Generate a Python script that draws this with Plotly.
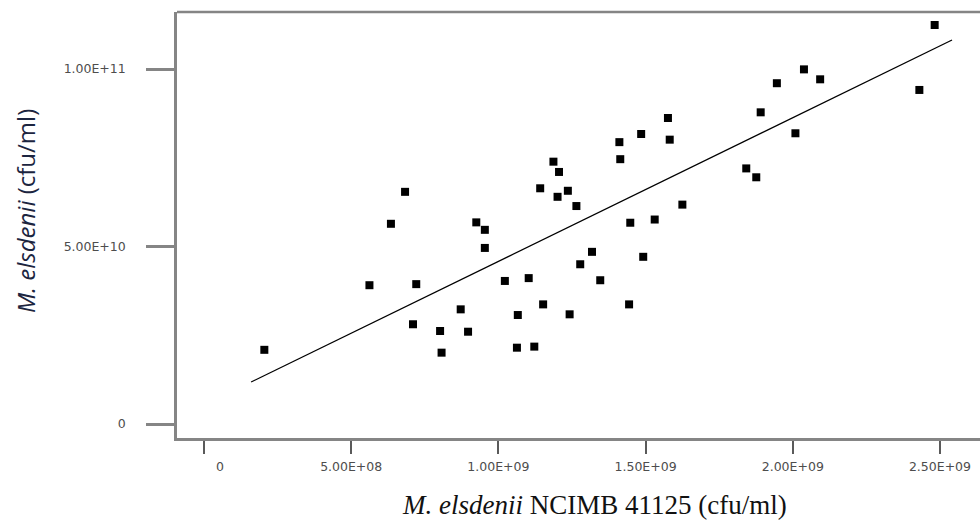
import plotly.graph_objects as go

# Scatter data (x: NCIMB 41125 cfu/ml, y: M. elsdenii cfu/ml)
x_vals = [2.05e8, 5.62e8, 6.35e8, 6.83e8, 7.10e8, 7.21e8, 8.02e8, 8.07e8, 8.72e8, 8.97e8,
          9.25e8, 9.54e8, 9.54e8, 1.022e9, 1.066e9, 1.063e9, 1.103e9, 1.122e9, 1.142e9, 1.152e9,
          1.187e9, 1.206e9, 1.201e9, 1.236e9, 1.265e9, 1.242e9, 1.278e9, 1.318e9, 1.346e9, 1.411e9,
          1.414e9, 1.444e9, 1.448e9, 1.485e9, 1.492e9, 1.531e9, 1.576e9, 1.582e9, 1.625e9, 1.842e9,
          1.876e9, 1.891e9, 1.946e9, 2.009e9, 2.038e9, 2.093e9, 2.430e9, 2.482e9]
y_vals = [2.09e10, 3.91e10, 5.64e10, 6.54e10, 2.81e10, 3.94e10, 2.62e10, 2.01e10, 3.23e10, 2.60e10,
          5.68e10, 5.47e10, 4.96e10, 4.03e10, 3.07e10, 2.15e10, 4.11e10, 2.18e10, 6.64e10, 3.37e10,
          7.39e10, 7.10e10, 6.40e10, 6.57e10, 6.14e10, 3.09e10, 4.50e10, 4.85e10, 4.05e10, 7.94e10,
          7.46e10, 3.37e10, 5.67e10, 8.17e10, 4.71e10, 5.76e10, 8.62e10, 8.01e10, 6.18e10, 7.20e10,
          6.95e10, 8.78e10, 9.60e10, 8.19e10, 9.99e10, 9.71e10, 9.41e10, 1.124e11]

# Regression line end points
fit_x = [1.6e8, 2.541e9]
fit_y = [1.183e10, 1.0817e11]

# Tick values and labels
x_ticks = [0, 5e8, 1e9, 1.5e9, 2e9, 2.5e9]
x_ticklabels = ["\u00a0" * 8 + "0", "5.00E+08", "1.00E+09", "1.50E+09", "2.00E+09", "2.50E+09"]
y_ticks = [0, 5e10, 1e11]
y_ticklabels = ["0", "5.00E+10", "1.00E+11"]

AXIS_GRAY = "#858585"
TICK_FONT = dict(family="DejaVu Sans", size=12.5, color="#4d4d4d")

fig = go.Figure()
fig.add_trace(go.Scatter(
    x=fit_x, y=fit_y, mode="lines",
    line=dict(color="black", width=1.3),
    showlegend=False, hoverinfo="skip",
))
fig.add_trace(go.Scatter(
    x=x_vals, y=y_vals, mode="markers",
    marker=dict(symbol="square", size=8, color="black", line=dict(width=0)),
    showlegend=False,
))

fig.update_layout(
    width=980, height=524,
    margin=dict(l=177, r=0, t=12, b=86),
    paper_bgcolor="white", plot_bgcolor="white",
    xaxis=dict(
        range=[-9.17e7, 2.636e9],
        tickvals=x_ticks, ticktext=x_ticklabels,
        showgrid=False, zeroline=False,
        showline=True, linecolor=AXIS_GRAY, linewidth=2.5,
        ticks="outside", ticklen=13, tickwidth=1.5, tickcolor="#5a5a5a",
        tickfont=TICK_FONT, ticklabelstandoff=2,
    ),
    yaxis=dict(
        range=[-3.94e9, 1.1606e11],
        tickvals=y_ticks, ticktext=y_ticklabels,
        showgrid=False, zeroline=False,
        showline=True, linecolor=AXIS_GRAY, linewidth=2.5,
        ticks="outside", ticklen=28, tickwidth=2.5, tickcolor=AXIS_GRAY,
        tickfont=TICK_FONT, ticklabelstandoff=18,
    ),
    shapes=[dict(type="line", xref="paper", yref="paper", x0=0, x1=1.01, y0=1, y1=1,
                 line=dict(color=AXIS_GRAY, width=2.5))],
    annotations=[
        dict(text="<i>M. elsdenii</i> NCIMB 41125 (cfu/ml)", xref="paper", yref="paper",
             x=(594 - 177) / 803, y=(438 - 505) / 426, xanchor="center", yanchor="middle",
             showarrow=False, font=dict(family="Liberation Serif", size=27, color="#111111")),
        dict(text="<i>M. elsdenii</i> (cfu/ml)", xref="paper", yref="paper",
             x=(25 - 177) / 803, y=(438 - 211) / 426, xanchor="center", yanchor="middle",
             textangle=-90, showarrow=False,
             font=dict(family="Open Sans", size=24, color="#1c2540")),
    ],
)

fig.write_html(
    "out.html",
    config={"displayModeBar": False},
    post_script="document.body.style.margin='0';document.body.style.overflow='hidden';",
)
